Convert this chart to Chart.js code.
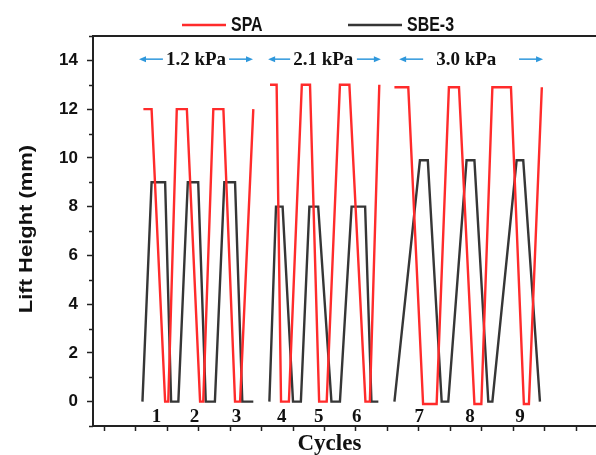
<!DOCTYPE html>
<html>
<head>
<meta charset="utf-8">
<script src="https://cdn.jsdelivr.net/npm/chart.js@4/dist/chart.umd.min.js"></script>
<style>
  html, body { margin: 0; padding: 0; background: #fff; overflow: hidden; }
  #wrap { position: relative; width: 596px; height: 455px; }
</style>
</head>
<body>
<div id="wrap"><canvas id="c" width="596" height="455"></canvas></div>
<script>
// Lift height of the SPA and SBE-3 actuators over nine cycles at three pressures.
const pressureGroups = ['1.2 kPa', '2.1 kPa', '3.0 kPa'];
const groupSpans = [[11.1, 47.3], [52.1, 87.9], [93.7, 139.4]];
const pressureLabelTimes = [29.2, 69.6, 115.0];
const cycleNames = ['1', '2', '3', '4', '5', '6', '7', '8', '9'];
const cycleTimes = [16.7, 28.7, 42.1, 56.4, 68.2, 80.2, 100.1, 116.2, 132.1];
const timeTicks = [0, 10, 20, 30, 40, 50, 60, 70, 80, 90, 100, 110, 120, 130, 140, 150];

const spaTime = [
  [12.5, 15.1, 19.4, 20.4, 23.1, 26.3, 30.5, 31.5, 34.7, 37.9, 41.6, 43.2, 47.4],
  [52.7, 54.8, 56.2, 58.7, 62.8, 65.4, 68.3, 70.7, 74.9, 77.9, 83.0, 84.4, 87.4],
  [92.2, 96.6, 101.3, 105.6, 109.5, 112.7, 117.6, 119.8, 123.3, 129.2, 133.3, 134.9, 139.0]
];
const spaLift = [
  [12, 12, 0, 0, 12, 12, 0, 0, 12, 12, 0, 0, 12],
  [13, 13, 0, 0, 13, 13, 0, 0, 13, 13, 0, 0, 13],
  [12.9, 12.9, -0.1, -0.1, 12.9, 12.9, -0.1, -0.1, 12.9, 12.9, -0.1, -0.1, 12.9]
];
const sbeTime = [
  [12.2, 15.1, 19.4, 21.3, 23.6, 26.6, 29.9, 32.3, 35.2, 38.2, 41.6, 43.9, 47.4],
  [52.5, 54.6, 56.7, 60.0, 62.5, 65.2, 68.0, 72.2, 74.9, 78.6, 82.9, 84.9, 87.1],
  [92.2, 100.3, 102.8, 107.2, 109.3, 115.1, 117.6, 122.0, 123.3, 131.0, 133.1, 138.4]
];
const sbeLift = [
  [0, 9, 9, 0, 0, 9, 9, 0, 0, 9, 9, 0, 0],
  [0, 8, 8, 0, 0, 8, 8, 0, 0, 8, 8, 0, 0],
  [0, 9.9, 9.9, 0, 0, 9.9, 9.9, 0, 0, 9.9, 9.9, 0]
];

const SANS = "'Liberation Sans', Arial, sans-serif";
const SERIF = "'Liberation Serif', 'Times New Roman', serif";
const AXIS = '#222222';

// Join the three pressure groups into one series, broken between groups.
function joinGroups(times, lifts) {
  const pts = [];
  times.forEach((t, g) => {
    if (g > 0) pts.push({ x: (times[g - 1][times[g - 1].length - 1] + t[0]) / 2, y: null });
    t.forEach((x, i) => pts.push({ x: x, y: lifts[g][i] }));
  });
  return pts;
}

function stretchedText(ctx, text, x, y, sx, sy, rot) {
  ctx.save();
  ctx.translate(x, y);
  if (rot) ctx.rotate(rot);
  ctx.scale(sx, sy);
  ctx.fillText(text, 0, 0);
  ctx.restore();
}

function arrow(ctx, from, to, y) {
  const dir = Math.sign(to - from);
  ctx.beginPath();
  ctx.moveTo(from, y);
  ctx.lineTo(to - dir * 5, y);
  ctx.stroke();
  ctx.beginPath();
  ctx.moveTo(to, y);
  ctx.lineTo(to - dir * 7, y - 3);
  ctx.lineTo(to - dir * 7, y + 3);
  ctx.closePath();
  ctx.fill();
}

const decor = {
  id: 'decor',
  afterDraw(chart) {
    const { ctx, chartArea: a, scales: { x, y } } = chart;
    ctx.save();

    // top frame line
    ctx.strokeStyle = AXIS;
    ctx.lineWidth = 2;
    ctx.beginPath();
    ctx.moveTo(a.left - 1, a.top);
    ctx.lineTo(a.right, a.top);
    ctx.stroke();

    // minor ticks on the lift axis
    ctx.lineWidth = 1.5;
    for (let v = -1; v <= 15; v += 2) {
      const py = Math.round(y.getPixelForValue(v)) + 0.5;
      ctx.beginPath();
      ctx.moveTo(a.left - 4, py);
      ctx.lineTo(a.left, py);
      ctx.stroke();
    }

    // legend
    const legendX = [182, 348];
    const legendLen = [44, 54];
    const legendY = 25;
    chart.data.datasets.forEach((ds, i) => {
      ctx.strokeStyle = ds.borderColor;
      ctx.lineWidth = 2.5;
      ctx.beginPath();
      ctx.moveTo(legendX[i], legendY);
      ctx.lineTo(legendX[i] + legendLen[i], legendY);
      ctx.stroke();
      ctx.fillStyle = '#111';
      ctx.font = 'bold 19px ' + SANS;
      ctx.textAlign = 'left';
      ctx.textBaseline = 'middle';
      stretchedText(ctx, ds.label, legendX[i] + legendLen[i] + 5, legendY + 1, 0.84, 1.05, 0);
    });

    // pressure labels with arrows
    ctx.font = 'bold 19px ' + SERIF;
    ctx.textAlign = 'center';
    ctx.textBaseline = 'middle';
    const ly = y.getPixelForValue(14.05);
    pressureGroups.forEach((label, g) => {
      const cx = x.getPixelForValue(pressureLabelTimes[g]);
      const w = ctx.measureText(label).width;
      ctx.fillStyle = '#111';
      ctx.fillText(label, cx, ly + 1);
      const s = x.getPixelForValue(groupSpans[g][0]);
      const e = x.getPixelForValue(groupSpans[g][1]);
      const lenL = Math.min(24, cx - w / 2 - 3 - s);
      const lenR = Math.min(24, e - (cx + w / 2 + 3));
      ctx.strokeStyle = '#2f98dc';
      ctx.fillStyle = '#2f98dc';
      ctx.lineWidth = 1.5;
      arrow(ctx, s + lenL, s, ly);
      arrow(ctx, e - lenR, e, ly);
    });

    // cycle numbers
    ctx.fillStyle = '#111';
    ctx.font = 'bold 19px ' + SERIF;
    const ny = y.getPixelForValue(-0.62);
    cycleNames.forEach((n, i) => ctx.fillText(n, x.getPixelForValue(cycleTimes[i]), ny));

    // axis titles
    ctx.font = 'bold 23px ' + SERIF;
    ctx.textBaseline = 'alphabetic';
    ctx.fillText('Cycles', a.left + (a.right - a.left) * 0.47, 450);

    ctx.font = 'bold 18px ' + SANS;
    ctx.textBaseline = 'middle';
    stretchedText(ctx, 'Lift Height (mm)', 27, (a.top + a.bottom) / 2 - 2, 1.22, 1, -Math.PI / 2);

    ctx.restore();
  }
};

new Chart(document.getElementById('c'), {
  type: 'line',
  data: {
    datasets: [
      { label: 'SPA', data: joinGroups(spaTime, spaLift), borderColor: '#ff2b2b', borderWidth: 2.4 },
      { label: 'SBE-3', data: joinGroups(sbeTime, sbeLift), borderColor: '#363636', borderWidth: 2.4 }
    ]
  },
  options: {
    responsive: false,
    animation: false,
    parsing: true,
    spanGaps: false,
    elements: { point: { radius: 0 }, line: { tension: 0, fill: false } },
    layout: { padding: { top: 36, right: 0, left: 0, bottom: 0 } },
    plugins: { legend: { display: false }, tooltip: { enabled: false } },
    scales: {
      x: {
        type: 'linear',
        min: -3.5,
        max: 156.2,
        afterBuildTicks: s => { s.ticks = timeTicks.map(v => ({ value: v })); },
        afterFit: s => { s.height = 29; },
        ticks: { display: false },
        grid: { drawOnChartArea: false, drawTicks: true, tickLength: 5, tickColor: AXIS, tickWidth: 1.5 },
        border: { color: AXIS, width: 2 }
      },
      y: {
        type: 'linear',
        min: -1,
        max: 15,
        afterFit: s => { s.width = 93; },
        ticks: {
          stepSize: 1,
          autoSkip: false,
          padding: 9,
          color: '#111',
          font: { family: SANS, size: 17, weight: 'bold' },
          callback: v => (v % 2 === 0 ? String(v) : '')
        },
        grid: {
          drawOnChartArea: false,
          tickLength: 6,
          tickWidth: 1.5,
          tickColor: c => (c.tick && c.tick.value % 2 === 0 ? AXIS : 'rgba(0,0,0,0)')
        },
        border: { color: AXIS, width: 2 }
      }
    }
  },
  plugins: [decor]
});
</script>
</body>
</html>
